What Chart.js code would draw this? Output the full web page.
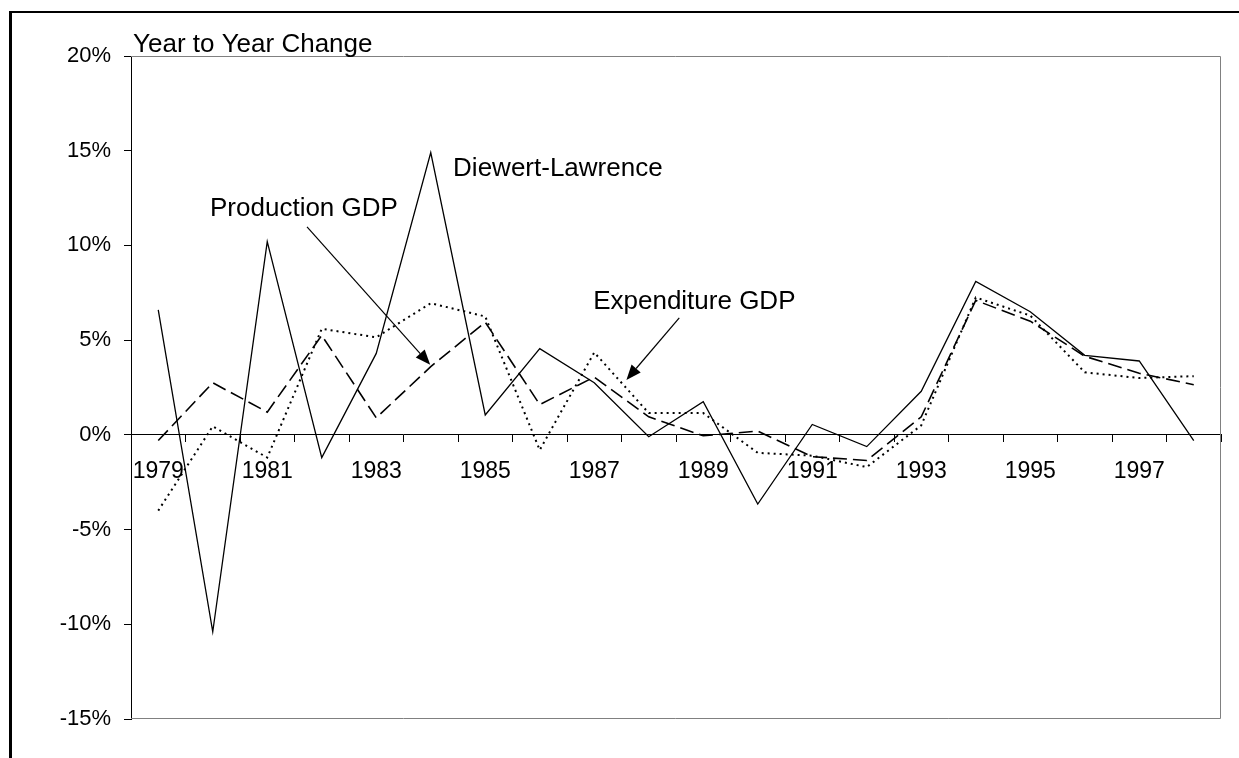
<!DOCTYPE html>
<html>
<head>
<meta charset="utf-8">
<script src="https://cdn.jsdelivr.net/npm/chart.js@4.4.1/dist/chart.umd.min.js"></script>
<style>
	html, body { margin: 0; padding: 0; background: #fff; overflow: hidden; }
	#wrap { position: relative; width: 1239px; height: 758px; }
	#frame { position: absolute; left: 9px; top: 11px; width: 1300px; height: 800px;
		border-left: 3px solid #000; border-top: 2px solid #000; }
	#box { position: absolute; left: 0; top: 0; width: 1239px; height: 758px; }
</style>
</head>
<body>
<div id="wrap">
	<div id="frame"></div>
	<div id="box"><canvas id="gdpChart"></canvas></div>
</div>
<script>
const years = ['1979', '1980', '1981', '1982', '1983', '1984', '1985', '1986', '1987', '1988',
	'1989', '1990', '1991', '1992', '1993', '1994', '1995', '1996', '1997', '1998'];
const diewertLawrence = [6.6, -10.4, 10.2, -1.2, 4.3, 14.9, 1.05, 4.55, 2.75, -0.1,
	1.75, -3.65, 0.55, -0.62, 2.3, 8.1, 6.5, 4.2, 3.9, -0.3];
const productionGDP = [-0.3, 2.75, 1.2, 5.25, 0.9, 3.6, 5.95, 1.6, 3.05, 0.95,
	-0.05, 0.2, -1.15, -1.35, 0.95, 7.1, 6.0, 4.15, 3.25, 2.65];
const expenditureGDP = [-4.0, 0.45, -1.2, 5.6, 5.15, 6.95, 6.25, -0.8, 4.35, 1.15,
	1.15, -0.95, -1.1, -1.7, 0.5, 7.25, 6.3, 3.3, 3.0, 3.1];
const yMin = -15;
const yMax = 20;
const yStep = 5;

// text labels and arrows, anchored in data space (category index, percent)
const labels = [
	{ text: 'Diewert-Lawrence', x: 5.41, y: 13.67 },
	{ text: 'Production GDP', x: 0.95, y: 11.56 },
	{ text: 'Expenditure GDP', x: 7.98, y: 6.65 }
];
const arrows = [
	{ from: [2.73, 10.98], to: [4.99, 3.7] },
	{ from: [9.56, 6.18], to: [8.59, 2.9] }
];

const fontFamily = '"Liberation Sans", Arial, sans-serif';

const annotatePlugin = {
	id: 'annotate',
	afterDatasetsDraw(chart) {
		const ctx = chart.ctx;
		const area = chart.chartArea;
		const xs = chart.scales.x;
		const ys = chart.scales.y;
		ctx.save();
		// grey plot border on top, right, bottom
		ctx.strokeStyle = '#808080';
		ctx.lineWidth = 1;
		ctx.beginPath();
		ctx.moveTo(area.left, area.top + 0.5);
		ctx.lineTo(area.right - 0.5, area.top + 0.5);
		ctx.lineTo(area.right - 0.5, area.bottom - 0.5);
		ctx.lineTo(area.left, area.bottom - 0.5);
		ctx.stroke();

		ctx.fillStyle = '#000';
		ctx.font = '26px ' + fontFamily;
		ctx.textBaseline = 'alphabetic';
		ctx.textAlign = 'left';
		ctx.fillText('Year to Year Change', area.left + 2, area.top - 4);
		labels.forEach(l => {
			ctx.fillText(l.text, xs.getPixelForValue(l.x), ys.getPixelForValue(l.y));
		});

		ctx.strokeStyle = '#000';
		ctx.lineWidth = 1.2;
		arrows.forEach(a => {
			const x1 = xs.getPixelForValue(a.from[0]);
			const y1 = ys.getPixelForValue(a.from[1]);
			const x2 = xs.getPixelForValue(a.to[0]);
			const y2 = ys.getPixelForValue(a.to[1]);
			const ang = Math.atan2(y2 - y1, x2 - x1);
			const len = 15, half = 6;
			const bx = x2 - len * Math.cos(ang);
			const by = y2 - len * Math.sin(ang);
			ctx.beginPath();
			ctx.moveTo(x1, y1);
			ctx.lineTo(bx, by);
			ctx.stroke();
			ctx.beginPath();
			ctx.moveTo(x2, y2);
			ctx.lineTo(bx + half * Math.sin(ang), by - half * Math.cos(ang));
			ctx.lineTo(bx - half * Math.sin(ang), by + half * Math.cos(ang));
			ctx.closePath();
			ctx.fill();
		});
		ctx.restore();
	}
};

const config = {
	type: 'line',
	data: {
		labels: years,
		datasets: [{
			label: 'Diewert-Lawrence',
			data: diewertLawrence,
			borderColor: '#000',
			borderWidth: 1.3,
			pointRadius: 0,
			tension: 0
		}, {
			label: 'Production GDP',
			data: productionGDP,
			borderColor: '#000',
			borderWidth: 1.6,
			borderDash: [14, 6],
			pointRadius: 0,
			tension: 0
		}, {
			label: 'Expenditure GDP',
			data: expenditureGDP,
			borderColor: '#000',
			borderWidth: 2,
			borderDash: [2, 4],
			pointRadius: 0,
			tension: 0
		}]
	},
	options: {
		responsive: true,
		maintainAspectRatio: false,
		animation: false,
		layout: { padding: { left: 0, top: 56, right: 18, bottom: 39 } },
		plugins: {
			legend: { display: false },
			tooltip: { enabled: false },
			title: { display: false }
		},
		scales: {
			x: {
				type: 'category',
				position: { y: 0 },
				offset: true,
				grid: {
					offset: true,
					drawOnChartArea: false,
					drawTicks: true,
					tickLength: 7,
					color: '#000'
				},
				border: { color: '#000', width: 1 },
				ticks: {
					autoSkip: false,
					maxRotation: 0,
					padding: 16,
					color: '#000',
					font: { family: fontFamily, size: 23 },
					callback: (v, i) => (i % 2 === 0 ? years[i] : '')
				}
			},
			y: {
				min: yMin,
				max: yMax,
				afterFit: (scale) => { scale.width = 131; },
				grid: {
					drawOnChartArea: false,
					drawTicks: true,
					tickLength: 7,
					color: '#000'
				},
				border: { color: '#000', width: 1 },
				ticks: {
					stepSize: yStep,
					padding: 13,
					color: '#000',
					font: { family: fontFamily, size: 22 },
					callback: (v) => v + '%'
				}
			}
		}
	},
	plugins: [annotatePlugin]
};

new Chart(document.getElementById('gdpChart'), config);
</script>
</body>
</html>
